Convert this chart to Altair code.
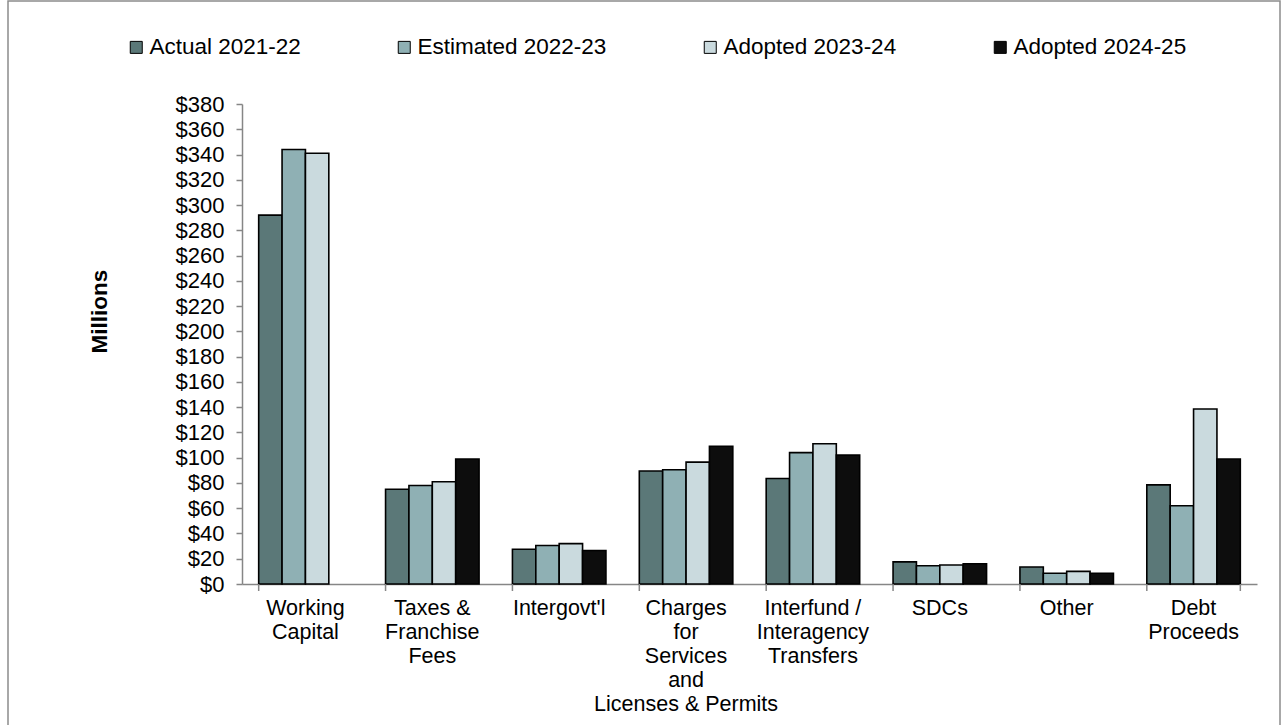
import altair as alt
import pandas as pd

categories = [
    "Working|Capital",
    "Taxes &|Franchise|Fees",
    "Intergovt'l",
    "Charges|for|Services|and|Licenses & Permits",
    "Interfund /|Interagency|Transfers",
    "SDCs",
    "Other",
    "Debt|Proceeds",
]
series = ["Actual 2021-22", "Estimated 2022-23", "Adopted 2023-24", "Adopted 2024-25"]

actual_2122 = [292, 75, 27.5, 89.5, 83.5, 17.5, 13.5, 78.5]
estimated_2223 = [344, 78, 30.5, 90.5, 104, 14.5, 8.5, 62]
adopted_2324 = [341, 81, 32, 96.5, 111, 15, 10, 138.5]
adopted_2425 = [None, 99, 26.5, 109, 102, 16, 8.5, 99]

colors = ["#5B7878", "#8FB0B4", "#CADADE", "#0D0D0D"]
y_ticks = list(range(0, 381, 20))

rows = []
for s, vals in zip(series, [actual_2122, estimated_2223, adopted_2324, adopted_2425]):
    for c, v in zip(categories, vals):
        if v is not None:
            rows.append({"category": c, "series": s, "value": v})
df = pd.DataFrame(rows)
cat_df = pd.DataFrame({"category": categories})

FONT = "Liberation Sans"
x_scale = alt.Scale(domain=categories, paddingInner=0.263, paddingOuter=0.1315)
y_scale = alt.Scale(domain=[0, 380], nice=False)

x_axis = alt.Axis(
    title=None, labelAngle=0, labelExpr="split(datum.label, '|')", ticks=False,
    domainColor="#868686", domainWidth=1.5, labelFontSize=21.5, labelLineHeight=24,
    labelPadding=13, labelBaseline="top", labelColor="#000", labelFont=FONT,
    labelLimit=400,
)

bars = alt.Chart(df).mark_bar(stroke="#000", strokeWidth=1.6).encode(
    x=alt.X("category:N", scale=x_scale, sort=categories, axis=x_axis),
    xOffset=alt.XOffset("series:N", scale=alt.Scale(domain=series, paddingInner=0, paddingOuter=0)),
    y=alt.Y(
        "value:Q", scale=y_scale,
        axis=alt.Axis(
            values=y_ticks, labelExpr="'$' + datum.value", title="Millions",
            titleFont=FONT, titleFontSize=22.5, titleFontWeight="bold", titleColor="#000",
            titleAngle=270, titleX=-143, titleY=207, titleAlign="center", titleBaseline="middle",
            grid=False, domainColor="#868686", domainWidth=1.5, tickColor="#868686",
            tickWidth=1.5, tickSize=6, labelFontSize=22, labelPadding=12, labelColor="#000",
            labelFont=FONT,
        ),
    ),
    color=alt.Color(
        "series:N", scale=alt.Scale(domain=series, range=colors),
        legend=alt.Legend(
            title=None, orient="none", legendX=-117, legendY=-68, direction="horizontal",
            symbolType="square", symbolSize=144, symbolStrokeColor="#000", symbolStrokeWidth=1,
            labelFontSize=22.5, labelFont=FONT, labelColor="#000", columnPadding=92,
            labelOffset=2, padding=0, labelLimit=400,
        ),
    ),
)

ticks = alt.Chart(cat_df).mark_rule(color="#868686", strokeWidth=1.5).encode(
    x=alt.X("category:N", scale=x_scale, sort=categories, bandPosition=0, axis=x_axis),
    y=alt.value(480), y2=alt.value(487),
)
end_tick = alt.Chart(cat_df.tail(1)).mark_rule(color="#868686", strokeWidth=1.5).encode(
    x=alt.X("category:N", scale=x_scale, sort=categories, bandPosition=1, axis=x_axis),
    y=alt.value(480), y2=alt.value(487),
)
frame = alt.Chart(cat_df.head(1)).mark_rect(fillOpacity=0, stroke="#8c8c8c", strokeWidth=1.5).encode(
    x=alt.value(-234), x2=alt.value(1038), y=alt.value(-103), y2=alt.value(640),
)

chart = alt.layer(frame, bars, ticks, end_tick).properties(
    width=1015, height=480,
    padding={"left": 242, "top": 104, "right": 27, "bottom": 141},
    autosize=alt.AutoSizeParams(type="none"),
    background="white",
).configure_view(stroke=None)

chart.save("out.html", embed_options={"renderer": "svg", "actions": False})
